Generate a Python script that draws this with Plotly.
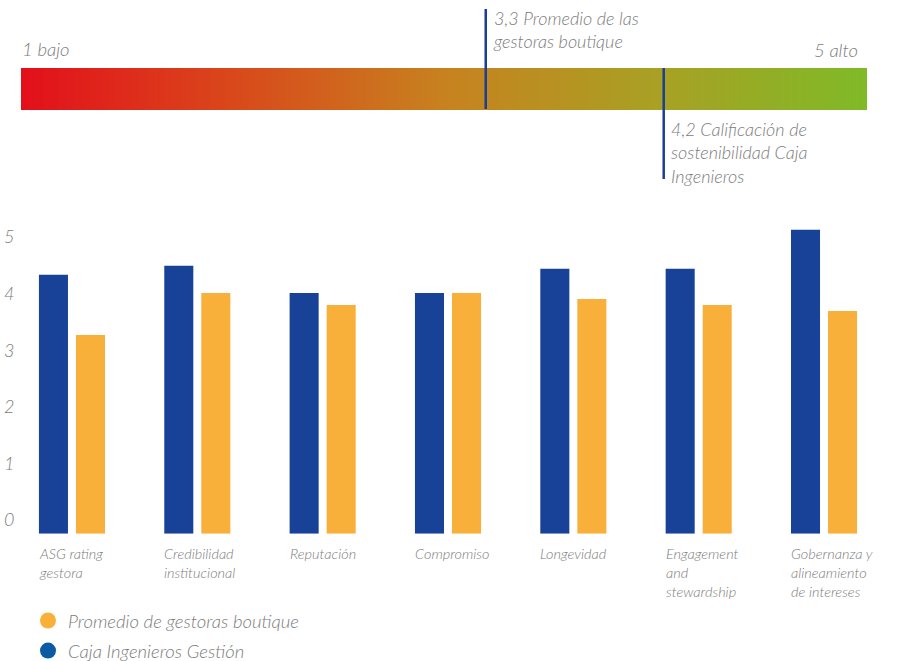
import numpy as np
import plotly.graph_objects as go

# ---------------- data ----------------
categories = ["ASG rating gestora", "Credibilidad institucional", "Reputación", "Compromiso",
              "Longevidad", "Engagement and stewardship", "Gobernanza y alineamiento de intereses"]
tick_labels = ["ASG rating<br>gestora", "Credibilidad<br>institucional", "Reputación", "Compromiso",
               "Longevidad", "Engagement<br>and<br>stewardship", "Gobernanza y<br>alineamiento<br>de intereses"]
caja_values = [4.3, 4.45, 4.0, 4.0, 4.4, 4.4, 5.05]
promedio_values = [3.3, 4.0, 3.8, 4.0, 3.9, 3.8, 3.7]
y_ticks = [0, 1, 2, 3, 4, 5]

scale_markers = [3.3, 4.2]
scale_marker_labels = ["3,3 Promedio de las<br>gestoras boutique",
                       "4,2 Calificación de<br>sostenibilidad Caja<br>Ingenieros"]
scale_ends = ["1 bajo", "5 alto"]

# ---------------- style ----------------
BLUE = "#174297"
ORANGE = "#F8B03B"
LEG_BLUE = "#0B5AA5"
GREY = "#7c7c7c"
LINE_BLUE = "#1B3F95"
FONT = dict(family="Lato", style="italic", weight=300, color=GREY)

W, H = 906, 661
def px_x(p):
    return p / W
def px_y(p):
    return (H - p) / H

# gradient scale axis range (layout)
scale_lo, scale_hi = 0.950, 5.228
N = 400
dx = (scale_hi - scale_lo) / N
grad_x = scale_lo + dx / 2 + dx * np.arange(N)

fig = go.Figure()

fig.add_trace(go.Heatmap(
    x=grad_x, y=[0.5], z=[grad_x], zmin=scale_lo, zmax=scale_hi,
    colorscale=[[0.0, "#E30F1B"], [0.25, "#D9481B"], [0.5, "#C7821F"],
                [0.75, "#A9A024"], [1.0, "#7FBA27"]],
    showscale=False, hoverinfo="skip", xaxis="x2", yaxis="y3"))

fig.add_trace(go.Bar(x=categories, y=caja_values, name="Caja Ingenieros Gestión",
                     marker=dict(color=BLUE, line=dict(width=0)), showlegend=False))
fig.add_trace(go.Bar(x=categories, y=promedio_values, name="Promedio de gestoras boutique",
                     marker=dict(color=ORANGE, line=dict(width=0)), showlegend=False))

# legend entries (circle symbols) on the label axis
fig.add_trace(go.Scatter(x=[None], y=[None], mode="markers", name="Promedio de gestoras boutique",
                         marker=dict(color=ORANGE, size=16, symbol="circle"), yaxis="y2",
                         legendgroup="a"))
fig.add_trace(go.Scatter(x=[None], y=[None], mode="markers", name="Caja Ingenieros Gestión",
                         marker=dict(color=LEG_BLUE, size=16, symbol="circle"), yaxis="y2",
                         legendgroup="b"))

y_bottom_px, y_top_px = 533.7, 220.0
px_per_unit = 60.2
y_range_top = (y_bottom_px - y_top_px) / px_per_unit

annotations = []
for cat, lab in zip(categories, tick_labels):
    annotations.append(dict(x=cat, xref="x", y=px_y(543), yref="paper", text=lab,
                            xanchor="left", yanchor="top", align="left", xshift=-35,
                            showarrow=False, font=dict(FONT, size=14.5)))

# scale marker labels
annotations.append(dict(x=scale_markers[0], xref="x2", y=px_y(5), yref="paper",
                        text=scale_marker_labels[0], xanchor="left", yanchor="top", align="left",
                        xshift=5, showarrow=False, font=dict(FONT, size=18)))
annotations.append(dict(x=scale_markers[1], xref="x2", y=px_y(116), yref="paper",
                        text=scale_marker_labels[1], xanchor="left", yanchor="top", align="left",
                        xshift=5, showarrow=False, font=dict(FONT, size=18)))
annotations.append(dict(x=px_x(20), xref="paper", y=px_y(49), yref="paper", text=scale_ends[0],
                        xanchor="left", yanchor="middle", showarrow=False, font=dict(FONT, size=18.5)))
annotations.append(dict(x=px_x(860), xref="paper", y=px_y(50), yref="paper", text=scale_ends[1],
                        xanchor="right", yanchor="middle", showarrow=False, font=dict(FONT, size=18.5)))

shapes = [
    dict(type="line", xref="x2", yref="paper", x0=scale_markers[0], x1=scale_markers[0],
         y0=px_y(109), y1=px_y(9), line=dict(color=LINE_BLUE, width=2.5)),
    dict(type="line", xref="x2", yref="paper", x0=scale_markers[1], x1=scale_markers[1],
         y0=px_y(68), y1=px_y(179), line=dict(color=LINE_BLUE, width=2.5)),
]

fig.update_layout(
    width=W, height=H, autosize=False,
    margin=dict(l=0, r=0, t=0, b=0, pad=0, autoexpand=False),
    paper_bgcolor="white", plot_bgcolor="white",
    font=FONT,
    barmode="group", bargap=0.409, bargroupgap=0.216,
    xaxis=dict(domain=[px_x(9.3), px_x(886.7)], anchor="y", showticklabels=False,
               showgrid=False, zeroline=False, showline=False, ticks=""),
    yaxis=dict(domain=[px_y(y_bottom_px), px_y(y_top_px)], range=[0, y_range_top],
               showticklabels=False, showgrid=False, zeroline=False, showline=False),
    yaxis2=dict(overlaying="y", anchor="free", position=0.0, side="left",
                range=[-(533.7 - 520) / 56.6, 5 + (237 - 220) / 56.6],
                tickvals=y_ticks, ticktext=[str(v) for v in y_ticks],
                ticklabelposition="inside", ticks="", showgrid=False, zeroline=False,
                showline=False, tickfont=dict(FONT, size=18)),
    xaxis2=dict(domain=[px_x(21), px_x(867)], anchor="y3", range=[scale_lo, scale_hi],
                visible=False),
    yaxis3=dict(domain=[px_y(110), px_y(68)], anchor="x2", range=[0, 1], visible=False),
    legend=dict(x=px_x(28), y=px_y(602), xanchor="left", yanchor="top",
                font=dict(FONT, size=18.5), tracegroupgap=3, itemsizing="trace",
                bgcolor="rgba(0,0,0,0)"),
    annotations=annotations,
    shapes=shapes,
    hovermode=False,
)

fig.write_html("out.html", config={"responsive": False})
